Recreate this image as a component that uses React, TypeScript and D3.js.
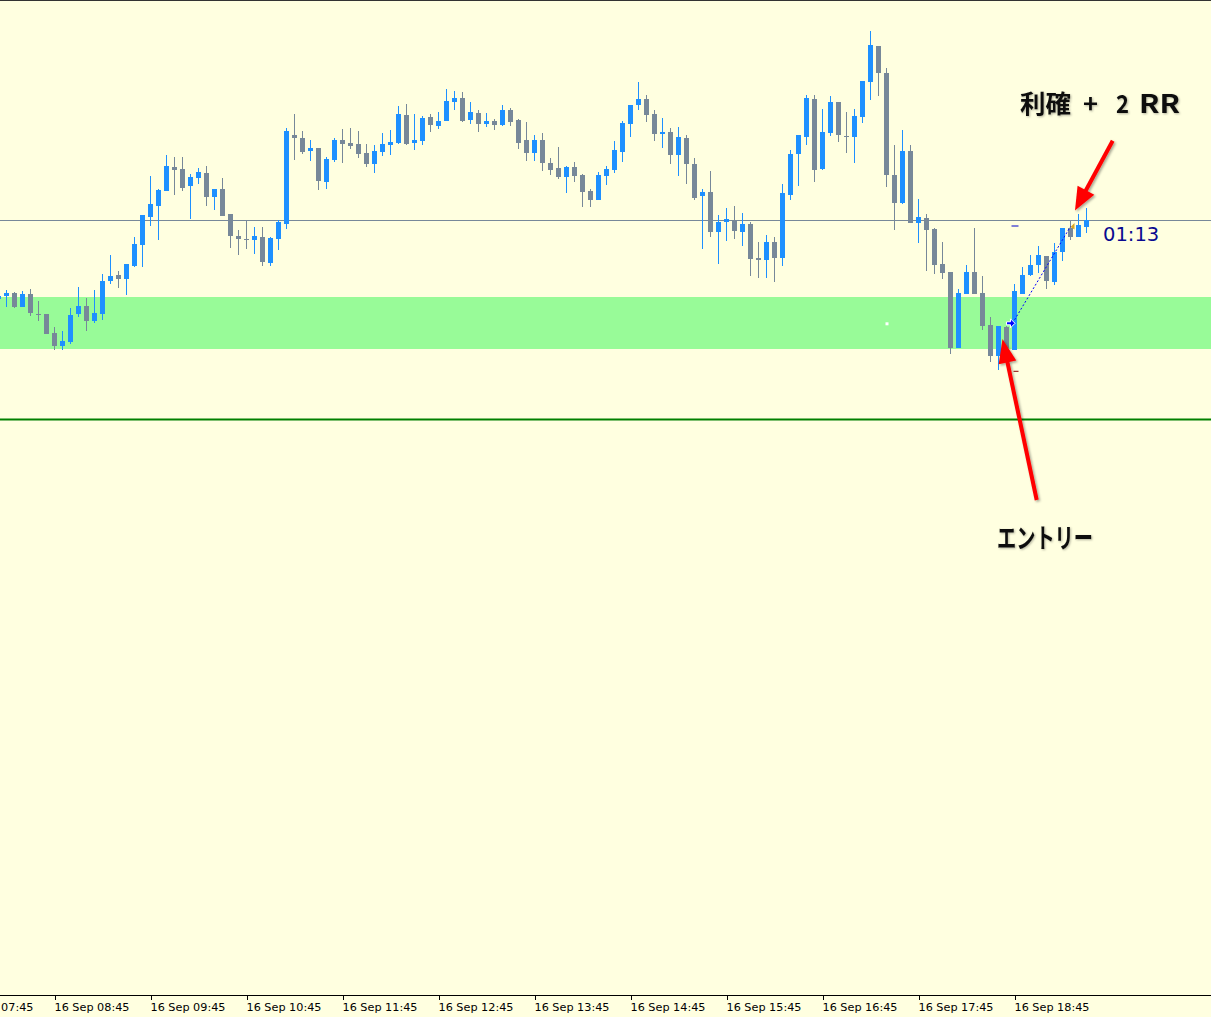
import React from "react";
import * as d3 from "d3";

// 5-minute candles, prices in points; first candle 16 Sep 08:10
const opens = [701.3,704.3,707,693.3,706,686,686.3,667.3,654.3,658,686.3,694,679.3,686.3,719.3,725,721.3,734,755.3,783.3,794.3,809.3,833,831,814.3,822.3,827,803.3,811,786,764,761,760.3,763,737.3,761.3,776.3,865,862,849.3,852,818.3,840,860,857,856,847,836.3,848.3,855.3,857,885,857,859,883,874,878.7,898,902,880,887,876,879,875,890,880,860,847,860,837,832,823,833,825,809,800,824,830,848,876,895,901,886,866,868,845,862,836,804,808,768,778,780,768,776,742,740,758,742.3,805.3,846.3,863.3,901,831.3,867.3,898,864,863.3,883.3,918.3,954,927,825,797.3,849,777.3,782,771,736,728,652.3,706.3,728,707,675,644.3,673,650.3,706,725,735,744,718,748,772,763,773];
const highs = [706,710,708,709,711,699,686.3,673,669,692,713,702,710,726,745,729,736,763,785,824,811,845,843,843,826,832,834,811,822,786,770,779.3,773,773,763.3,780,872,886,869,860,852,843,862,871,872,869,856,855,867,870,894,896,886,884,886,888,911,909,908,898,890,887,881,895,892,881,878,865,867,842,853,834,838,826,811,828,834,859,879,895,918,905,890,882,872,873,865,842,811,829,785,792,794,787,778,758,765,763,816,850,865,905,905,891,904,898,888,891,919,969,954,932,855,870,855,801,786,772,758,728,711,735,772,724,683,674,674,716,733,745,754,744,757,772,779,786,792];
const lows = [700,693.3,692.3,693.3,684.3,679.3,666.3,650.3,650.3,656.3,683.3,669.3,677.3,680.3,716.3,712.3,705.3,733,733.3,774.3,760.3,809.3,805.3,809.3,781.3,816.3,794.3,790.3,784.3,752.3,745.3,751.3,746.3,734.3,734.3,750.3,771.3,840.3,846.3,839.3,810.3,811.3,838,837.3,851.3,842.3,832.7,827.3,844.3,845.3,856.3,855,850.3,855.3,868.3,871,878.7,890,878,876,868,873,870,874,874,851,839,839,829.3,825,821,807,818,793,793,800,815,827,838,863,890,878,859,852,836,824,816,800,751,763,736,759,761,754,724,722,722,718.3,734.3,800.3,814.3,855.3,818.3,830.3,864.3,858.3,847.3,837.3,877.3,900.3,904.3,813.3,770.3,796.3,777.3,757.3,729.3,726.3,721.3,646.3,652.3,706.3,706.3,670.3,638.3,630.3,652.3,650.3,706,724,727,711,715,739,760,763,767];
const closes = [704,707,693,706,687.3,685.3,666.3,654.3,659,685,694,679.3,687,719,724,721.3,736,756,785,796,810,834,830.3,812.3,823,828,803.3,811,784.3,764.3,761.3,760.3,764,738.3,762,778,869,862.3,848.3,852,819.3,841,860,856.3,854.3,846.3,836.3,849,856,858,886,855.7,860,882,875.3,879,899,902,879,888,876,879,875,890,878,857,847,860,837,830,823,833,824,808,800,825,831,850,877,895,901,885,866,868,845,863,836,802,808,768,778,781,769,776,741,740,758,742.3,807,846,865,902,830.3,868,898,865.3,863.3,884,919,955,927.3,825.3,797.3,849,777.3,783,770.3,735.3,727.3,652.3,707,728,706.3,674.3,644.3,674,652.3,709,725,735,745,719,748,772,763,775,780];

const START = new Date(2024, 8, 16, 8, 10);
const times = opens.map((_, i) => d3.timeMinute.offset(START, 5 * i));

const tickLabels = [
  "16 Sep 07:45", "16 Sep 08:45", "16 Sep 09:45", "16 Sep 10:45", "16 Sep 11:45",
  "16 Sep 12:45", "16 Sep 13:45", "16 Sep 14:45", "16 Sep 15:45", "16 Sep 16:45",
  "16 Sep 17:45", "16 Sep 18:45",
];

// levels (points)
const zoneTop = 703;
const zoneBottom = 651;
const greenLevel = 580.5;
const entryTime = "16 Sep 18:45";
const exitTime = "16 Sep 19:20";
const entryPrice = 676.7;
const exitPrice = 773.5;
const takeProfit = 774;
const stopLoss = 628.7;
const markerTime = "16 Sep 17:25";
const markerPrice = 676.7;
const timerText = "01:13";

const BULL = "#1E90FF";
const BEAR = "#778899";

const W = 1211;
const H = 1017;

function arrowPath(tx: number, ty: number, hx: number, hy: number, headLen: number, headHalf: number) {
  const dx = hx - tx, dy = hy - ty;
  const len = Math.hypot(dx, dy);
  const ux = dx / len, uy = dy / len;
  const bx = hx - ux * headLen, by = hy - uy * headLen;
  const px = -uy, py = ux;
  return {
    line: { x1: tx, y1: ty, x2: bx + ux * 2, y2: by + uy * 2 },
    head: `M${hx},${hy}L${bx + px * headHalf},${by + py * headHalf}L${bx - px * headHalf},${by - py * headHalf}Z`,
  };
}

export default function App() {
  const parse = d3.timeParse("%Y %d %b %H:%M");
  const t = (s: string) => parse("2024 " + s) as Date;
  const x = d3.scaleTime().domain([times[0], times[times.length - 1]]).range([-1.5, 1086.5]);
  const y = d3.scaleLinear().domain([0, 1000]).range([1000, 0]);
  const axisY = 995.5;

  const a1 = arrowPath(1112.7, 140.7, 1075, 210.5, 23, 9.5);
  const a2 = arrowPath(1036.7, 500, 1002.5, 339, 24, 9);

  const ex = x(t(entryTime));
  const ey = y(entryPrice);
  const xx = x(t(exitTime));
  const xy = y(exitPrice);
  const bidY = Math.round(y(closes[closes.length - 1])) + 0.5;

  return (
    <svg width={W} height={H} style={{ position: "absolute", left: 0, top: 0, display: "block" }}>
      <defs>
        <filter id="shadow" x="-20%" y="-20%" width="140%" height="140%">
          <feDropShadow dx="1.5" dy="1.5" stdDeviation="1.2" floodColor="#000" floodOpacity="0.35" />
        </filter>
        <filter id="soft" x="-10%" y="-20%" width="120%" height="140%">
          <feGaussianBlur stdDeviation="0.4" />
          <feDropShadow dx="1" dy="1" stdDeviation="1" floodColor="#000" floodOpacity="0.3" />
        </filter>
      </defs>
      <rect x={0} y={0} width={W} height={H} fill="#FFFFE0" />
      <line x1={0} x2={W} y1={0.5} y2={0.5} stroke="#333" strokeWidth={1} />
      {/* zone */}
      <rect x={0} y={y(zoneTop)} width={W} height={y(zoneBottom) - y(zoneTop)} fill="#98FB98" />
      {/* green level */}
      <line x1={0} x2={W} y1={y(greenLevel)} y2={y(greenLevel)} stroke="#008000" strokeWidth={2} />
      {/* bid line */}
      <line x1={0} x2={W} y1={bidY} y2={bidY} stroke="#778899" strokeWidth={1} />

      {/* candles */}
      <g shapeRendering="crispEdges">
        {opens.map((o, i) => {
          const c = closes[i];
          const cx = x(times[i]);
          const bull = c >= o;
          const col = bull ? BULL : BEAR;
          const top = y(Math.max(o, c));
          const bot = y(Math.min(o, c));
          return (
            <g key={i}>
              <line x1={cx} x2={cx} y1={y(highs[i])} y2={y(lows[i])} stroke={col} strokeWidth={1} />
              <rect x={cx - 2.5} y={top} width={5} height={Math.max(1, bot - top)} fill={col} />
            </g>
          );
        })}
      </g>

      {/* marker */}
      <rect x={x(t(markerTime)) - 1} y={y(markerPrice) - 1} width={3} height={3} fill="#fff" />

      {/* TP / SL dashes */}
      <line x1={x(t(entryTime)) - 3} x2={x(t(entryTime)) + 4} y1={y(takeProfit)} y2={y(takeProfit)} stroke="#0000CD" strokeWidth={1} />
      <line x1={x(t(entryTime)) - 1} x2={x(t(entryTime)) + 4} y1={y(stopLoss)} y2={y(stopLoss)} stroke="#8B0000" strokeWidth={1} />

      {/* trade line */}
      <line x1={ex - 2} y1={ey} x2={xx} y2={xy} stroke="#0000FF" strokeWidth={1} strokeDasharray="2,2" />
      <path d={`M${ex - 8},${ey - 1.5}h4v-3l4.5,4.5l-4.5,4.5v-3h-4z`} fill="#0000FF" stroke="#fff" strokeWidth={1} />
      <path d={`M${xx},${xy + 0.5}L${xx + 4},${xy - 3.5}L${xx + 4},${xy + 3}Z`} fill="#DAA520" />

      {/* timer */}
      <text x={1103} y={241} fontFamily="'DejaVu Sans', Verdana, sans-serif" fontSize={19.5} fill="#0a0a90">{timerText}</text>

      {/* red arrows */}
      <g filter="url(#shadow)">
        <line {...a1.line} stroke="#FF0000" strokeWidth={4} />
        <path d={a1.head} fill="#FF0000" />
        <line {...a2.line} stroke="#FF0000" strokeWidth={4} />
        <path d={a2.head} fill="#FF0000" />
      </g>

      {/* annotation text */}
      <g filter="url(#soft)" fontFamily="'Noto Sans CJK JP', sans-serif" fontWeight="bold" fill="#111">
        <text x={1020} y={113} fontSize={25} textLength={51} lengthAdjust="spacingAndGlyphs">利確</text>
        <text x={1083} y={113} fontSize={25} textLength={15} lengthAdjust="spacingAndGlyphs">+</text>
        <text x={1116} y={113} fontSize={25} textLength={13} lengthAdjust="spacingAndGlyphs">2</text>
        <text x={1139} y={113} fontSize={25} textLength={41} lengthAdjust="spacingAndGlyphs">RR</text>
        <text x={997} y={548} fontSize={27} textLength={96} lengthAdjust="spacingAndGlyphs">エントリー</text>
      </g>

      {/* time axis */}
      <line x1={0} x2={W} y1={axisY} y2={axisY} stroke="#000" strokeWidth={1} />
      {tickLabels.map((lab) => {
        const tx = Math.round(x(t(lab))) + 0.5;
        return (
          <g key={lab}>
            <line x1={tx} x2={tx} y1={axisY} y2={axisY + 4.5} stroke="#000" strokeWidth={1} />
            <text x={tx - 1} y={1011} fontFamily="'DejaVu Sans', Verdana, sans-serif" fontSize={11} textLength={75} lengthAdjust="spacingAndGlyphs" fill="#000">{lab}</text>
          </g>
        );
      })}
    </svg>
  );
}
